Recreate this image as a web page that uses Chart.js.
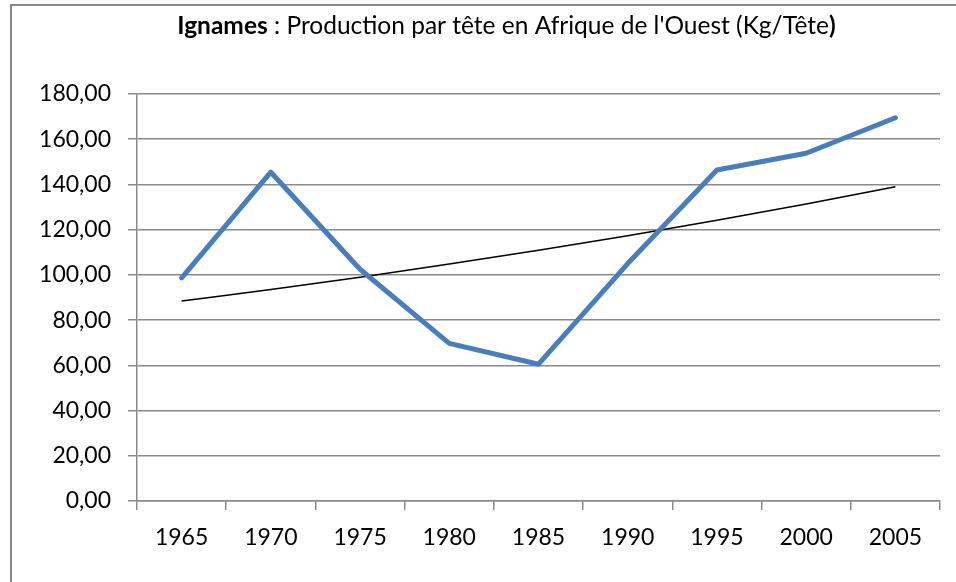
<!DOCTYPE html>
<html>
<head>
<meta charset="utf-8">
<script src="https://cdn.jsdelivr.net/npm/chart.js@4"></script>
<style>
  html, body { margin: 0; padding: 0; background: #fff; }
  #wrap { width: 956px; height: 582px; position: relative; }
</style>
</head>
<body>
<div id="wrap"><canvas id="c" width="956" height="582"></canvas></div>
<script>
const titleBold = "Ignames";
const titleRest = " : Production par tête en Afrique de l'Ouest (Kg/Tête";
const titleEnd = ")";
const years = ["1965", "1970", "1975", "1980", "1985", "1990", "1995", "2000", "2005"];
const production = [98.7, 145.4, 102.5, 69.7, 60.5, 105.0, 146.4, 153.8, 169.5];
const trend = [88.4, 93.5, 99.0, 104.8, 110.9, 117.3, 124.2, 131.4, 139.0];
const yTicks = { min: 0, max: 180, step: 20 };

const FONT = "Lato, 'Open Sans', sans-serif";
const GRID = "#8a8a8a";

const decor = {
  id: "decor",
  afterDraw(chart) {
    const ctx = chart.ctx;
    ctx.save();
    // outer chart border
    ctx.strokeStyle = "#888888";
    ctx.lineWidth = 2;
    ctx.strokeRect(11, 5, 2000, 2000);
    // title with mixed weights
    const size = 24.5;
    const bold = "bold " + size + "px " + FONT;
    const norm = size + "px " + FONT;
    ctx.font = bold; const w1 = ctx.measureText(titleBold).width; const w3 = ctx.measureText(titleEnd).width;
    ctx.font = norm; const w2 = ctx.measureText(titleRest).width;
    const total = w1 + w2 + w3;
    let x = 506.5 - total / 2;
    const y = 34;
    ctx.fillStyle = "#000";
    ctx.textBaseline = "alphabetic";
    ctx.textAlign = "left";
    ctx.font = bold; ctx.fillText(titleBold, x, y); x += w1;
    ctx.font = norm; ctx.fillText(titleRest, x, y); x += w2;
    ctx.font = bold; ctx.fillText(titleEnd, x, y);
    ctx.restore();
  }
};

new Chart(document.getElementById("c"), {
  type: "line",
  data: {
    labels: years,
    datasets: [
      {
        data: production,
        borderColor: "#4a7ebb",
        borderWidth: 5,
        pointRadius: 0,
        tension: 0,
        borderCapStyle: "round",
        borderJoinStyle: "round",
        fill: false
      },
      {
        data: trend,
        borderColor: "#000000",
        borderWidth: 1.5,
        pointRadius: 0,
        tension: 0.4,
        cubicInterpolationMode: "monotone",
        fill: false
      }
    ]
  },
  options: {
    responsive: false,
    devicePixelRatio: 1,
    animation: false,
    layout: { padding: { left: 0, right: 16, top: 94, bottom: 0 } },
    plugins: { legend: { display: false }, tooltip: { enabled: false }, title: { display: false } },
    scales: {
      x: {
        type: "category",
        offset: true,
        afterFit(scale) { scale.height = 81; },
        grid: { display: true, offset: true, drawOnChartArea: false, drawTicks: true, tickLength: 9, color: GRID, lineWidth: 1.5 },
        border: { display: true, color: GRID, width: 1.5 },
        ticks: { color: "#000", font: { family: FONT, size: 23 }, padding: 14, maxRotation: 0, autoSkip: false }
      },
      y: {
        min: yTicks.min,
        max: yTicks.max,
        afterFit(scale) { scale.width = 137; },
        grid: { display: true, drawTicks: true, tickLength: 9, color: GRID, lineWidth: 1.5 },
        border: { display: true, color: GRID, width: 1.5 },
        ticks: {
          stepSize: yTicks.step,
          color: "#000",
          font: { family: FONT, size: 23 },
          padding: 17,
          callback: (v) => Number(v).toFixed(2).replace(".", ",")
        }
      }
    }
  },
  plugins: [decor]
});
</script>
</body>
</html>
